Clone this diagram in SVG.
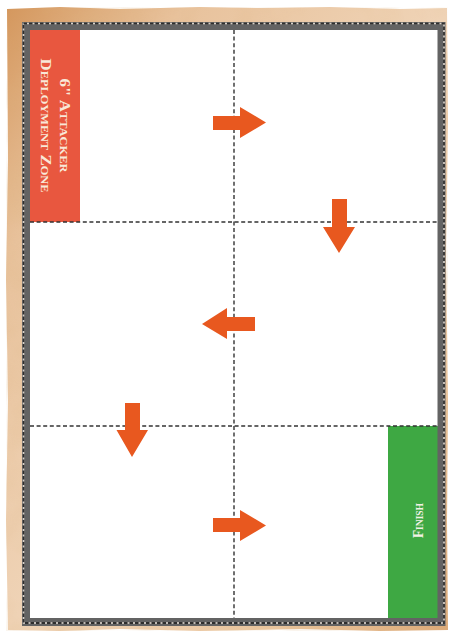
<svg xmlns="http://www.w3.org/2000/svg" width="453" height="636" viewBox="0 0 453 636">
  <defs>
    <style>
      .grid { stroke: #333333; stroke-width: 1.4; stroke-dasharray: 4 2.6; fill: none; }
      .arrow { fill: #e8581f; }
      .label { font-family: "Liberation Serif", "DejaVu Serif", serif; font-weight: bold; font-variant: small-caps; text-anchor: middle; }
    </style>
    <linearGradient id="parch" x1="0" y1="0" x2="1" y2="1">
      <stop offset="0" stop-color="#d4975d"/>
      <stop offset="0.2" stop-color="#e8c29c"/>
      <stop offset="0.5" stop-color="#efd3b6"/>
      <stop offset="0.8" stop-color="#eac69f"/>
      <stop offset="1" stop-color="#dcaa78"/>
    </linearGradient>
    <filter id="blot" x="0" y="0" width="100%" height="100%">
      <feTurbulence type="fractalNoise" baseFrequency="0.02" numOctaves="3" seed="4"/>
      <feColorMatrix type="matrix" values="0 0 0 0 0.72  0 0 0 0 0.46  0 0 0 0 0.22  0 0 0 1.2 -0.45"/>
    </filter>
  </defs>

  <rect x="0" y="0" width="453" height="636" fill="#ffffff"/>
  <g id="parchment">
    <path d="M7,9 L60,7 L120,9 L200,7 L260,8 L330,7 L400,9 L447,8 L448,120 L446,260 L448,400 L447,520 L448,630 L380,631 L300,629 L200,631 L120,629 L60,631 L8,630 L6,520 L8,400 L6,280 L8,160 Z" fill="url(#parch)"/>
    <path d="M7,9 L60,7 L120,9 L200,7 L260,8 L330,7 L400,9 L447,8 L448,120 L446,260 L448,400 L447,520 L448,630 L380,631 L300,629 L200,631 L120,629 L60,631 L8,630 L6,520 L8,400 L6,280 L8,160 Z" fill="#c88a50" opacity="0.4" filter="url(#blot)"/>
  </g>

  <g id="board">
    <rect x="30" y="30" width="408" height="588" fill="#ffffff"/>
  </g>

  <g id="deployment-zone">
    <rect x="30" y="30" width="50" height="192" fill="#e8573f"/>
    <text class="label" transform="translate(60,125.5) rotate(90)" x="0" y="0" font-size="15" fill="#f8e8d8" textLength="94" lengthAdjust="spacingAndGlyphs">6" Attacker</text>
    <text class="label" transform="translate(40.5,125.5) rotate(90)" x="0" y="0" font-size="15" fill="#f8e8d8" textLength="134" lengthAdjust="spacingAndGlyphs">Deployment Zone</text>
  </g>

  <g id="finish">
    <rect x="388" y="426" width="50" height="192" fill="#3ea843"/>
    <text class="label" transform="translate(423,520.5) rotate(-90)" x="0" y="0" font-size="14" fill="#f2f2e6" textLength="35" lengthAdjust="spacingAndGlyphs">Finish</text>
  </g>

  <g id="connectors">
    <line class="grid" x1="234" y1="30" x2="234" y2="618"/>
    <line class="grid" x1="30" y1="222" x2="438" y2="222"/>
    <line class="grid" x1="30" y1="426" x2="438" y2="426"/>
  </g>

  <g id="frame">
    <rect x="26" y="26" width="415.5" height="596" fill="none" stroke="#636363" stroke-width="8"/>
    <rect x="23.5" y="23.5" width="420.5" height="599.5" fill="none" stroke="#d8d0c8" stroke-width="1.6"/>
    <rect x="23.5" y="23.5" width="420.5" height="599.5" fill="none" stroke="#2e2e2e" stroke-width="1.8" stroke-dasharray="3.5 2"/>
  </g>

  <g id="arrows">
    <g id="arrow-1"><path class="arrow" d="M213,116 H240 V107 L266,122.5 L240,138 V130 H213 Z"/></g>
    <g id="arrow-2"><path class="arrow" d="M332,199 H347 V227 H355 L339,253 L323,227 H332 Z"/></g>
    <g id="arrow-3"><path class="arrow" d="M255,317 H227 V308 L202,324 L227,339 V331 H255 Z"/></g>
    <g id="arrow-4"><path class="arrow" d="M125,403 H140 V430 H148 L132,457 L116.5,430 H125 Z"/></g>
    <g id="arrow-5"><path class="arrow" d="M213,518 H240 V510 L266,525.5 L240,541 V532 H213 Z"/></g>
  </g>
</svg>
